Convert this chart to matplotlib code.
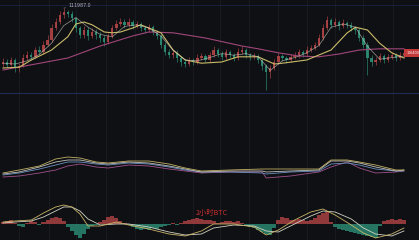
import matplotlib
matplotlib.use("Agg")
import matplotlib.pyplot as plt
import numpy as np

# ---------------- data ----------------
closes = [105.25, 104.9, 105.5, 104.5, 104.75, 105.75, 106.1, 105.9, 106.75, 106.5,
          107.4, 108.0, 109.5, 110.25, 111.1, 111.5, 111.25, 110.75, 109.5, 108.6,
          109.25, 108.5, 109.0, 108.6, 108.25, 107.75, 108.5, 109.5, 110.0, 110.25,
          109.9, 110.25, 109.75, 110.0, 109.5, 109.25, 109.6, 109.0, 108.5, 107.4,
          106.5, 106.1, 106.4, 105.75, 105.25, 105.0, 105.5, 105.25, 105.75, 106.0,
          105.5, 106.1, 106.75, 106.25, 105.9, 106.5, 106.1, 105.75, 106.5, 106.75,
          106.1, 105.9, 106.0, 105.5, 104.75, 104.0, 104.5, 105.25, 106.0, 105.75,
          105.5, 105.9, 106.1, 106.5, 106.25, 106.75, 107.0, 107.4, 108.25, 109.5,
          110.5, 109.9, 110.25, 109.75, 110.1, 109.9, 109.5, 109.25, 108.25, 107.4,
          105.75, 105.25, 105.5, 106.0, 105.5, 105.9, 106.1, 105.75, 106.1, 106.4]
first_open = 105.0
highs = [105.7, 105.6, 105.9, 105.8, 105.1, 106.2, 106.6, 106.5, 107.1, 107.2,
         107.9, 108.6, 110.0, 110.8, 111.6, 111.99, 111.8, 111.6, 110.9, 109.8,
         109.7, 109.6, 109.5, 109.4, 109.0, 108.6, 108.9, 109.9, 110.5, 110.8,
         110.6, 110.7, 110.5, 110.4, 110.3, 109.8, 110.0, 109.9, 109.3, 108.8,
         107.7, 106.9, 106.8, 106.7, 106.0, 105.6, 105.9, 105.8, 106.2, 106.4,
         106.3, 106.5, 107.3, 107.0, 106.6, 106.9, 106.8, 106.4, 107.0, 107.2,
         107.0, 106.4, 106.4, 106.2, 105.8, 105.0, 104.9, 105.6, 106.4, 106.3,
         106.0, 106.3, 106.5, 106.9, 106.8, 107.2, 107.4, 107.8, 108.7, 110.0,
         111.0, 110.8, 110.7, 110.5, 110.6, 110.4, 110.2, 109.8, 109.5, 108.6,
         107.7, 106.1, 105.9, 106.4, 106.3, 106.3, 106.5, 106.4, 106.5, 106.8]
lows = [104.6, 104.5, 104.7, 104.0, 104.0, 104.6, 105.5, 105.5, 105.7, 106.2,
        106.3, 107.2, 107.8, 109.3, 110.0, 110.8, 110.9, 110.3, 109.0, 108.2,
        108.3, 108.0, 108.2, 108.1, 107.8, 107.3, 107.5, 108.3, 109.2, 109.8,
        109.5, 109.6, 109.4, 109.5, 109.1, 108.9, 109.0, 108.6, 108.1, 107.0,
        106.1, 105.7, 105.8, 105.3, 104.8, 104.6, 104.7, 104.9, 105.0, 105.5,
        105.2, 105.3, 105.9, 105.9, 105.5, 105.6, 105.8, 105.4, 105.5, 106.2,
        105.8, 105.5, 105.6, 105.1, 104.3, 101.75, 103.2, 104.2, 105.0, 105.4,
        105.1, 105.2, 105.6, 105.8, 105.9, 106.0, 106.5, 106.7, 107.2, 108.0,
        109.3, 109.5, 109.6, 109.3, 109.5, 109.5, 109.1, 108.8, 107.9, 107.0,
        103.6, 104.8, 104.9, 105.2, 105.1, 105.2, 105.6, 105.4, 105.5, 105.8]

ma_short_idx = [0, 3, 6, 9, 12, 15, 18, 21, 24, 27, 30, 33, 36, 39, 42, 45, 48,
                51, 54, 57, 60, 63, 66, 69, 72, 75, 78, 81, 84, 87, 90, 93, 96, 99]
ma_short = [105.1, 105.0, 105.4, 106.2, 107.6, 109.8, 110.8, 109.6, 108.7, 108.4,
            109.7, 109.9, 109.5, 108.5, 106.7, 105.5, 105.4, 105.8, 106.3, 106.1,
            106.3, 105.9, 104.2, 105.4, 105.8, 106.4, 107.3, 109.6, 110.0, 109.6,
            107.2, 105.6, 105.8, 106.0]
ma_mid_idx = [0, 4, 7, 12, 16, 18, 20, 22, 25, 27, 29, 32, 34, 39, 42, 45, 49, 54,
              58, 63, 67, 69, 75, 81, 85, 87, 90, 93, 96, 99]
ma_mid = [104.5, 104.6, 105.5, 106.75, 108.4, 110.0, 110.25, 109.9, 109.0, 108.9,
          109.0, 109.5, 109.9, 108.9, 106.75, 105.5, 105.1, 105.25, 105.9, 105.9,
          105.0, 105.1, 105.5, 106.75, 108.9, 109.6, 109.25, 107.6, 106.4, 105.75]
ma_long_idx = [0, 7, 16, 24, 32, 36, 42, 50, 59, 63, 68, 73, 78, 83, 88, 93, 99]
ma_long = [104.25, 104.9, 105.75, 107.25, 108.5, 109.0, 108.9, 108.25, 107.25,
           106.9, 106.4, 106.0, 105.9, 106.25, 106.75, 106.9, 106.9]

ind_idx = [0, 4, 9, 13, 16, 19, 23, 26, 31, 36, 41, 45, 49, 56, 64, 65, 71, 78,
           81, 85, 88, 92, 97, 99]
ind_yellow = [34, 40, 48, 62, 66, 64, 56, 54, 58, 58, 52, 44, 38, 40, 42, 42, 42,
              42, 60, 60, 56, 50, 40, 40]
ind_white = [32, 36, 46, 56, 60, 60, 54, 52, 56, 54, 48, 42, 36, 38, 38, 36, 38,
             40, 58, 58, 54, 46, 38, 40]
ind_blue = [30, 34, 42, 50, 56, 56, 52, 50, 54, 52, 46, 40, 36, 36, 34, 32, 36,
            38, 52, 54, 50, 42, 38, 38]
ind_purple = [26, 28, 34, 40, 48, 52, 46, 44, 50, 48, 42, 38, 34, 36, 36, 24, 28,
              36, 46, 56, 44, 34, 36, 38]

macd_idx = [0, 3, 7, 10, 13, 15, 17, 19, 21, 24, 28, 31, 36, 41, 45, 49, 52, 57,
            62, 65, 68, 72, 76, 79, 82, 86, 89, 92, 96, 99]
macd_dif = [2, 3, 4, 11, 17, 19, 17, 10, -2, -2, 2, -1, -5, -10, -12, -7, 0, 0,
            -3, -11, -6, 4, 12, 15, 9, -1, -9, -14, -10, -4]
macd_dea = [1, 2, 3, 7, 13, 17, 17, 13, 5, -1, 0, 0, -3, -8, -11, -10, -4, -1,
            -2, -7, -8, 0, 8, 13, 12, 5, -4, -10, -12, -7]
macd_hist = [2, 3, 4, 1, -2, -3, 1, 3, 2, -1, 2, 4, 6, 7, 6, 3, -3, -7, -11, -14,
             -10, -5, -2, -1, 2, 4, 7, 8, 6, 3, 1, -1, -3, -5, -6, -5, -6, -4, -5,
             -3, -2, -1, 1, -1, 1, 3, 4, 5, 6, 5, 4, 4, 3, 1, 2, 3, 3, 2, 3, 1,
             -2, -3, -4, -6, -8, -10, -11, -4, 4, 7, 6, 4, 4, 5, 4, 3, 4, 6, 9, 11,
             12, 2, -3, -5, -6, -7, -8, -9, -10, -11, -12, -13, -14, -2, 3, 4, 5, 4,
             5, 4]

peak_label = "111987.0"
chart_title = "2小时BTC"
last_price_label = "106400"

# ---------------- style ----------------
BG = "#0f1014"
UP = "#b24446"
DOWN = "#2c8f76"
W, H = 419, 240
xlim = (-0.74, 102.72)

fig = plt.figure(figsize=(W / 100, H / 100), dpi=100, facecolor=BG)

# background axes for full-height grid
bgax = fig.add_axes([0, 0, 1, 1], facecolor=BG)
bgax.set_xlim(*xlim)
bgax.set_ylim(0, H)
grid_x = [3.95, 11.36, 18.0, 25.4, 32.6, 39.5, 46.9, 53.6, 60.7, 67.9, 75.1,
          82.0, 88.9, 96.3]
for gx in grid_x:
    bgax.axvline(gx, color="#1a1c22", lw=0.6, zorder=0)
bgax.axhline(H - 93, color="#1f2a55", lw=0.8)
bgax.axhline(H - 5, color="#1a2248", lw=0.6)
bgax.axis("off")

def mk(bottom_px, top_px):
    ax = fig.add_axes([0, 1 - bottom_px / H, 1, (bottom_px - top_px) / H])
    ax.patch.set_alpha(0)
    ax.set_xlim(*xlim)
    ax.axis("off")
    return ax

# ---- main candles ----
ax1 = mk(95, 0)
ax1.set_ylim(101.125, 113.0)
x = np.arange(len(closes))
opens = [first_open] + closes[:-1]
cols = [UP if c >= o else DOWN for o, c in zip(opens, closes)]
ax1.vlines(x, lows, highs, colors=cols, lw=0.5, zorder=2, alpha=0.9)
bodies = [max(abs(c - o), 0.06) for o, c in zip(opens, closes)]
ax1.bar(x, bodies, bottom=[min(o, c) for o, c in zip(opens, closes)],
        width=0.55, color=cols, zorder=3, linewidth=0, alpha=0.9)
ax1.plot(ma_long_idx, ma_long, color="#a0467a", lw=0.8, zorder=4)
ax1.plot(ma_mid_idx, ma_mid, color="#c8ba68", lw=0.8, zorder=4)
ax1.plot(ma_short_idx, ma_short, color="#d0d0c0", lw=0.5, alpha=0.7, zorder=4)
# peak annotation
pk = int(np.argmax(highs))
ax1.annotate(peak_label, xy=(pk, highs[pk]), xytext=(pk + 1.2, highs[pk] + 0.3),
             color="#b0b0bc", fontsize=3.4, va="center", ha="left",
             arrowprops=dict(arrowstyle="-", color="#808088", lw=0.4))
# last price tag
ax1.text(102.7, closes[-1], last_price_label, color="white", fontsize=2.4,
         ha="right", va="center",
         bbox=dict(boxstyle="square,pad=0.6", fc="#c23a3a", ec="none"))

# ---- indicator panel ----
ax2 = mk(190, 140)
ax2.set_ylim(0, 100)
ax2.plot(ind_idx, ind_purple, color="#a0508a", lw=0.6)
ax2.plot(ind_idx, ind_blue, color="#6a8fc0", lw=0.6)
ax2.plot(ind_idx, ind_white, color="#c0c0b8", lw=0.6)
ax2.plot(ind_idx, ind_yellow, color="#c0b066", lw=0.6)

# ---- MACD panel ----
ax3 = mk(240, 195)
ax3.set_ylim(-16, 29)
hcols = [UP if v >= 0 else DOWN for v in macd_hist]
ax3.bar(x, macd_hist, width=1.0, color=hcols, linewidth=0, alpha=0.8)
ax3.plot(macd_idx, macd_dea, color="#d0d0c0", lw=0.6)
ax3.plot(macd_idx, macd_dif, color="#c8b468", lw=0.6)
ax3.text(51.6, 11, chart_title, color="#c8302e", fontsize=5.2, ha="center",
         va="center", family=["Noto Sans CJK SC", "DejaVu Sans"])

fig.savefig("out.png", dpi=100, facecolor=BG)
